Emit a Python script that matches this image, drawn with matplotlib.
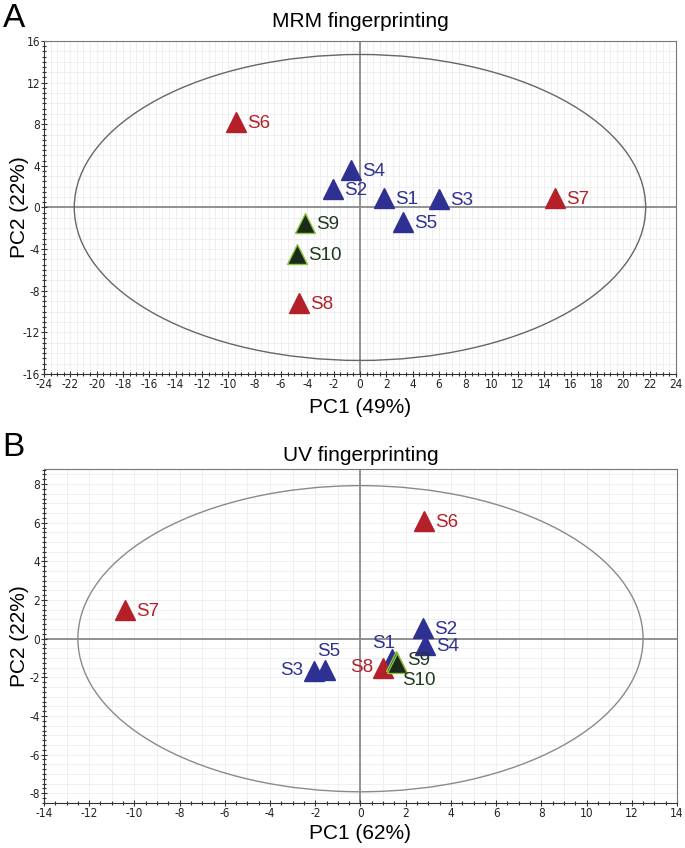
import matplotlib
matplotlib.use("Agg")
import matplotlib.pyplot as plt
from matplotlib.patches import Ellipse
from matplotlib.ticker import MultipleLocator

plt.rcParams['font.family'] = ['Liberation Sans', 'DejaVu Sans']
plt.rcParams['axes.unicode_minus'] = False

# ---- data ----
# panel A: MRM fingerprinting
mrm_names = ['S1', 'S2', 'S3', 'S4', 'S5', 'S6', 'S7', 'S8', 'S9', 'S10']
mrm_pc1 = [1.8, -2.05, 6.0, -0.7, 3.3, -9.4, 14.8, -4.65, -4.2, -4.8]
mrm_pc2 = [0.9, 1.8, 0.8, 3.6, -1.4, 8.2, 0.9, -9.2, -1.5, -4.45]

# panel B: UV fingerprinting
uv_names = ['S1', 'S2', 'S3', 'S4', 'S5', 'S6', 'S7', 'S8', 'S9', 'S10']
uv_pc1 = [1.4, 2.75, -2.05, 2.85, -1.55, 2.8, -10.4, 1.0, 1.55, 1.6]
uv_pc2 = [-1.05, 0.55, -1.65, -0.35, -1.6, 6.1, 1.5, -1.5, -1.15, -1.25]

groups = ['blue', 'blue', 'blue', 'blue', 'blue', 'red', 'red', 'red', 'green', 'green']

# ---- styles ----
fill = {'blue': '#2e3192', 'red': '#b3202a', 'green': '#1b2a1b'}
edge = {'blue': '#2e3192', 'red': '#b3202a', 'green': '#8dc63f'}
txt = {'blue': '#2e3192', 'red': '#b3202a', 'green': '#1f3a1f'}
tick_font = ['Liberation Sans Narrow', 'DejaVu Sans']

fig = plt.figure(figsize=(6.85, 8.48), dpi=100)


def setup(ax, xlim, ylim, xmaj, ymaj, xmin, ymin, gx, gy):
    ax.set_xlim(*xlim)
    ax.set_ylim(*ylim)
    ax.xaxis.set_major_locator(MultipleLocator(xmaj))
    ax.yaxis.set_major_locator(MultipleLocator(ymaj))
    ax.xaxis.set_minor_locator(MultipleLocator(xmin))
    ax.yaxis.set_minor_locator(MultipleLocator(ymin))
    # light background grid
    x = xlim[0]
    while x <= xlim[1] + 1e-9:
        ax.axvline(x, color='#ededed', lw=0.6, zorder=0)
        x += gx
    y = ylim[0]
    while y <= ylim[1] + 1e-9:
        ax.axhline(y, color='#ededed', lw=0.6, zorder=0)
        y += gy
    ax.axhline(0, color='#8a8a8a', lw=1.3, zorder=1)
    ax.axvline(0, color='#8a8a8a', lw=1.3, zorder=1)
    ax.tick_params(which='major', direction='inout', length=4, width=0.8,
                   labelsize=8.5, color='#333333', labelcolor='#222222', pad=1)
    ax.tick_params(which='minor', direction='inout', length=2.5, width=0.8,
                   color='#333333')
    ax.tick_params(top=False, right=False, which='both')
    for lab in ax.get_xticklabels() + ax.get_yticklabels():
        lab.set_family(tick_font)
        lab.set_stretch('condensed')
    for s in ['top', 'right']:
        ax.spines[s].set_color('#777777')
    for s in ['left', 'bottom']:
        ax.spines[s].set_color('#333333')
    ax.yaxis.set_label_coords(-0.024, 0.5)


def points(ax, names, xs, ys, offsets):
    for n, x, y, g in zip(names, xs, ys, groups):
        ax.plot(x, y, marker='^', ms=14, color=fill[g], mec=edge[g], mew=1.0,
                ls='none', zorder=3)
        dx, dy, ha = offsets.get(n, (8, -1, 'left'))
        ax.annotate(n, (x, y), xytext=(dx, dy), textcoords='offset points',
                    ha=ha, va='center', fontsize=13.5, color=txt[g], zorder=4)


# ---- panel A ----
axA = fig.add_axes([0.0642, 0.559, 0.9226, 0.3927])
setup(axA, (-24, 24), (-16, 16), 2, 4, 0.5, 0.5, 0.5, 1)
axA.add_patch(Ellipse((0, 0), 2 * 21.7, 2 * 14.7, fill=False,
                      ec='#666666', lw=1.0, zorder=2))
points(axA, mrm_names, mrm_pc1, mrm_pc2, {})
axA.set_xlabel('PC1 (49%)', fontsize=15, labelpad=5)
axA.set_ylabel('PC2 (22%)', fontsize=15)
axA.set_title('MRM fingerprinting', fontsize=15, pad=10)
fig.text(0.004, 0.997, 'A', fontsize=24, va='top', ha='left')

# ---- panel B ----
axB = fig.add_axes([0.0642, 0.0531, 0.9241, 0.3938])
setup(axB, (-14, 14), (-8.5, 8.78), 2, 2, 0.5, 0.25, 1, 0.5)
axB.add_patch(Ellipse((0, 0), 2 * 12.5, 2 * 7.92, fill=False,
                      ec='#8a8a8a', lw=1.0, zorder=2))
uv_offsets = {
    'S1': (-6, 11, 'center'),
    'S3': (-8, 0, 'right'),
    'S5': (2, 13, 'center'),
    'S8': (-7, 0, 'right'),
    'S9': (8, 0, 'left'),
    'S10': (4, -13, 'left'),
}
points(axB, uv_names, uv_pc1, uv_pc2, uv_offsets)
axB.set_xlabel('PC1 (62%)', fontsize=15, labelpad=3)
axB.set_ylabel('PC2 (22%)', fontsize=15)
axB.set_title('UV fingerprinting', fontsize=15, pad=6)
fig.text(0.004, 0.491, 'B', fontsize=24, va='top', ha='left')

fig.savefig('out.png', dpi=100)
